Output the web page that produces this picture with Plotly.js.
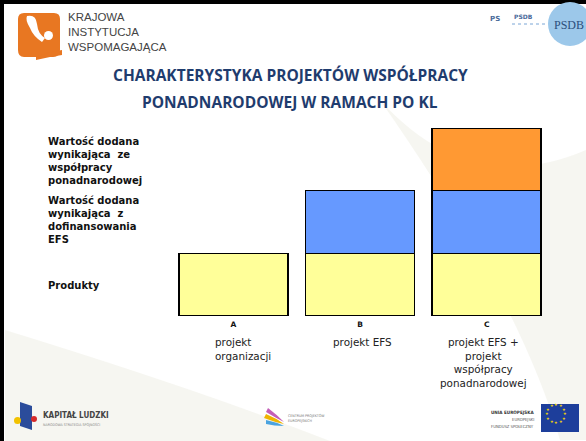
<!DOCTYPE html>
<html>
<head>
<meta charset="utf-8">
<script src="https://cdn.plot.ly/plotly-3.0.1.min.js"></script>
<style>
html,body{margin:0;padding:0;background:#fff;}
#chart{width:586px;height:441px;}
</style>
</head>
<body>
<div id="chart"></div>
<script>
// ---- data ----
var categories = ['A', 'B', 'C'];
var produkty = [1, 1, 1];
var dofinansowanieEFS = [null, 1, 1];
var wspolpracaPonadnarodowa = [null, null, 1];
var seriesNames = ['Produkty', 'Wartość dodana wynikająca z dofinansowania EFS', 'Wartość dodana wynikająca ze współpracy ponadnarodowej'];
var descriptions = ['projekt<br>organizacji', 'projekt EFS', 'projekt EFS +<br>projekt<br>współpracy<br>ponadnarodowej'];

// ---- layout helpers (pixel -> paper) ----
var W = 586, H = 441, ML = 170, MR = 36, MT = 128, MB = 125;
var PW = W - ML - MR, PH = H - MT - MB;
function px(x) { return (x - ML) / PW; }
function py(y) { return (H - MB - y) / PH; }

var outline = {color: '#000', width: 1.6};
var traces = [
  {type: 'bar', x: categories, y: produkty, name: seriesNames[0], marker: {color: '#FFFF99', line: outline}, width: 0.86, hoverinfo: 'skip'},
  {type: 'bar', x: categories, y: dofinansowanieEFS, name: seriesNames[1], marker: {color: '#6699FF', line: outline}, width: 0.86, hoverinfo: 'skip'},
  {type: 'bar', x: categories, y: wspolpracaPonadnarodowa, name: seriesNames[2], marker: {color: '#FF9933', line: outline}, width: 0.86, hoverinfo: 'skip'}
];

var labelFont = {family: 'DejaVu Sans', size: 10, color: '#111'};
var descFont = {family: 'DejaVu Sans', size: 10.4, color: '#222'};
var titleFont = {family: 'Open Sans', size: 15.5, color: '#1F3C6E'};
var ann = [
  {text: '<b>CHARAKTERYSTYKA PROJEKTÓW WSPÓŁPRACY</b>', x: px(290), y: py(75), font: titleFont},
  {text: '<b>PONADNARODOWEJ W RAMACH PO KL</b>', x: px(290), y: py(102), font: titleFont},
  {text: 'KRAJOWA<br>INSTYTUCJA<br>WSPOMAGAJĄCA', x: px(66), y: py(9), xanchor: 'left', yanchor: 'top', align: 'left', font: {family: 'Liberation Sans', size: 11.5, color: '#444'}},
  {text: '<b>Wartość dodana<br>wynikająca  ze<br>współpracy<br>ponadnarodowej</b>', x: px(46), y: py(134), xanchor: 'left', yanchor: 'top', align: 'left', font: labelFont},
  {text: '<b>Wartość dodana<br>wynikająca  z<br>dofinansowania<br>EFS</b>', x: px(46), y: py(193), xanchor: 'left', yanchor: 'top', align: 'left', font: labelFont},
  {text: '<b>Produkty</b>', x: px(46), y: py(285), xanchor: 'left', align: 'left', font: labelFont},
  {text: descriptions[0], x: px(213), y: py(334), xanchor: 'left', yanchor: 'top', align: 'left', font: descFont},
  {text: descriptions[1], x: px(362), y: py(334), yanchor: 'top', align: 'center', font: descFont},
  {text: descriptions[2], x: px(483), y: py(334), yanchor: 'top', align: 'center', font: descFont},
  // header/footer logo texts
  {text: '<b>PS</b>', x: px(488), y: py(19), xanchor: 'left', font: {family: 'DejaVu Sans', size: 7, color: '#4a6a9a'}},
  {text: '<b>PSDB</b>', x: px(512), y: py(17), xanchor: 'left', font: {family: 'DejaVu Sans', size: 6, color: '#4a6a9a'}},
  {text: 'PSDB', x: px(569), y: py(25), font: {family: 'Liberation Serif', size: 12, color: '#2c4f7c'}},
  {text: '<b>KAPITAŁ LUDZKI</b>', x: px(41), y: py(415), xanchor: 'left', font: {family: 'DejaVu Sans Condensed', size: 8, color: '#444'}},
  {text: 'NARODOWA STRATEGIA SPÓJNOŚCI', x: px(41), y: py(424), xanchor: 'left', font: {family: 'DejaVu Sans Condensed', size: 3.6, color: '#888'}},
  {text: 'CENTRUM PROJEKTÓW<br>EUROPEJSKICH', x: px(286), y: py(418), xanchor: 'left', align: 'left', font: {family: 'DejaVu Sans Condensed', size: 3.6, color: '#777'}},
  {text: '<b>UNIA EUROPEJSKA</b>', x: px(536), y: py(412), xanchor: 'right', font: {family: 'DejaVu Sans Condensed', size: 4.6, color: '#333'}},
  {text: 'EUROPEJSKI', x: px(536), y: py(419), xanchor: 'right', font: {family: 'DejaVu Sans Condensed', size: 4.2, color: '#555'}},
  {text: 'FUNDUSZ SPOŁECZNY', x: px(536), y: py(426), xanchor: 'right', font: {family: 'DejaVu Sans Condensed', size: 4.2, color: '#555'}}
];
ann.forEach(function (a) { a.xref = 'paper'; a.yref = 'paper'; a.showarrow = false; if (!a.xanchor) a.xanchor = 'center'; if (!a.yanchor) a.yanchor = 'middle'; });

// EU stars
var stars = [];
for (var i = 0; i < 12; i++) {
  var ang = i * Math.PI / 6;
  stars.push({text: '★', x: px(560 + 9 * Math.cos(ang)), y: py(418 + 9 * Math.sin(ang)), xref: 'paper', yref: 'paper', showarrow: false, font: {size: 4, color: '#ffdd00'}});
}
ann = ann.concat(stars);

function rect(x0, y0, x1, y1, fill, extra) {
  var s = {type: 'rect', xref: 'paper', yref: 'paper', x0: px(x0), x1: px(x1), y0: py(y0), y1: py(y1), fillcolor: fill, line: {width: 0}, layer: 'below'};
  if (extra) for (var k in extra) s[k] = extra[k];
  return s;
}
function pathPx(pts) {
  return pts.replace(/(-?\d+(\.\d+)?),(-?\d+(\.\d+)?)/g, function (m, a, b, c, d) { return px(+a) + ',' + py(+c); });
}
var shapes = [
  // faint background swoosh
  {type: 'path', xref: 'paper', yref: 'paper', path: pathPx('M 380,100 Q 470,200 586,150 L 586,440 L 560,440 Q 520,300 380,100 Z'), fillcolor: 'rgba(230,228,215,0.35)', line: {width: 0}, layer: 'below'},
  {type: 'path', xref: 'paper', yref: 'paper', path: pathPx('M 5,330 Q 200,390 330,441 L 5,441 Z'), fillcolor: 'rgba(230,228,215,0.35)', line: {width: 0}, layer: 'below'},
  // frame
  rect(0, 0, 586, 4, '#000', {layer: 'above'}),
  rect(0, 0, 4, 441, '#000', {layer: 'above'}),
  // orange logo
  {type: 'path', xref: 'paper', yref: 'paper', path: pathPx('M 24,13 L 54,13 Q 60,13 60,19 L 60,50 Q 60,57 53,57 L 24,57 Q 18,57 18,50 L 18,19 Q 18,13 24,13 Z'), fillcolor: '#E87722', line: {width: 0}},
  {type: 'path', xref: 'paper', yref: 'paper', path: pathPx('M 27,16 Q 36,14 37,24 Q 38,34 45,38 L 42,42 Q 33,36 30,28 Q 25,20 27,16 Z'), fillcolor: '#ffffff', line: {width: 0}},
  {type: 'circle', xref: 'paper', yref: 'paper', x0: px(44), x1: px(53), y0: py(40), y1: py(31), fillcolor: '#ffffff', line: {width: 0}},
  {type: 'path', xref: 'paper', yref: 'paper', path: pathPx('M 36,57 Q 48,52 62,50 L 62,55 Q 48,57 36,60 Z'), fillcolor: '#E87722', line: {width: 0}},
  // PSDB circle
  {type: 'circle', xref: 'paper', yref: 'paper', x0: px(548), x1: px(592), y0: py(46), y1: py(2), fillcolor: '#9CC8EA', line: {width: 0}},
  {type: 'line', xref: 'paper', yref: 'paper', x0: px(512), x1: px(547), y0: py(24), y1: py(24), line: {color: '#7aa6d6', width: 1, dash: 'dot'}},
  // Kapitał Ludzki logo
  {type: 'path', xref: 'paper', yref: 'paper', path: pathPx('M 20,402 L 32,406 L 32,430 L 20,426 Z'), fillcolor: '#2b4c9b', line: {width: 0}},
  {type: 'circle', xref: 'paper', yref: 'paper', x0: px(14), x1: px(21), y0: py(424), y1: py(417), fillcolor: '#f2c200', line: {width: 0}},
  {type: 'circle', xref: 'paper', yref: 'paper', x0: px(31), x1: px(37), y0: py(422), y1: py(416), fillcolor: '#d62b2b', line: {width: 0}},
  // centre swoosh logo
  {type: 'path', xref: 'paper', yref: 'paper', path: pathPx('M 268,408 Q 276,414 284,422 Q 276,418 266,412 Z'), fillcolor: '#c45fb8', line: {width: 0}},
  {type: 'path', xref: 'paper', yref: 'paper', path: pathPx('M 266,414 Q 276,418 284,424 Q 274,422 264,418 Z'), fillcolor: '#f0b400', line: {width: 0}},
  {type: 'path', xref: 'paper', yref: 'paper', path: pathPx('M 266,420 Q 276,422 284,426 Q 274,426 266,424 Z'), fillcolor: '#4aa3df', line: {width: 0}},
  // EU flag
  rect(541, 404, 579, 432, '#1d3e9b', {layer: 'above'})
];

var layout = {
  width: W, height: H,
  margin: {l: ML, r: MR, t: MT, b: MB, pad: 0},
  paper_bgcolor: '#ffffff', plot_bgcolor: 'rgba(0,0,0,0)',
  barmode: 'stack', bargap: 0.14,
  showlegend: false,
  xaxis: {type: 'category', range: [-0.5, 2.5], showgrid: false, zeroline: false, showline: false, ticks: '',
          tickfont: {family: 'DejaVu Sans', size: 7.5, color: '#111', weight: 'bold'}, ticklabelstandoff: 2},
  yaxis: {range: [0, 3], visible: false, showgrid: false, zeroline: false},
  annotations: ann,
  shapes: shapes
};

Plotly.newPlot('chart', traces, layout, {staticPlot: true, displayModeBar: false});
</script>
</body>
</html>
